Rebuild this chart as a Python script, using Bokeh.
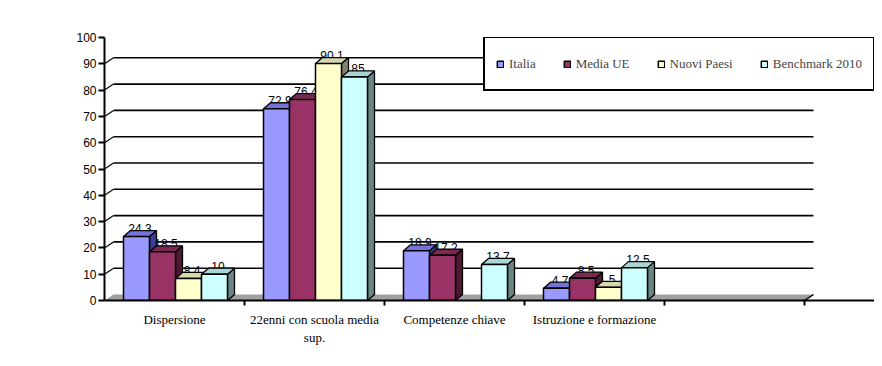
from bokeh.plotting import figure
from bokeh.models import (Range1d, FixedTicker, Legend, LegendItem)
from bokeh.core.properties import value
from bokeh.embed import file_html
from bokeh.resources import INLINE

# ---------------- data ----------------
categories = ["Dispersione", "22enni con scuola media\nsup.", "Competenze chiave",
              "Istruzione e formazione", ""]
series_names = ["Italia", "Media UE", "Nuovi Paesi", "Benchmark 2010"]
italia = [24.3, 72.9, 18.9, 4.7]
media_ue = [18.5, 76.4, 17.2, 8.5]
nuovi_paesi = [8.4, 90.1, None, 5.0]
benchmark = [10, 85, 13.7, 12.5]
y_ticks = [0, 10, 20, 30, 40, 50, 60, 70, 80, 90, 100]

series_values = [italia, media_ue, nuovi_paesi, benchmark]
front_colors = ["#9999FF", "#993366", "#FFFFCC", "#CCFFFF"]
top_colors = ["#7373D9", "#7A2952", "#D6D6AB", "#A8D6D6"]
side_colors = ["#3D3D99", "#4D1A33", "#85856B", "#6B8585"]

# ---------------- geometry (pixel based) ----------------
W, H = 874, 358
LEFT, TOP, BOTTOM = 104, 37, 58
X_END = 5.5
frame_w = W - LEFT
frame_h = H - TOP - BOTTOM
PXX = frame_w / X_END          # px per category
PXY = frame_h / 100.0          # px per unit

bar_w = 26 / PXX
group_off = 19 / PXX
dxb, dyb = 7 / PXX, 6 / PXY     # bar depth
dxw, dyw = 9 / PXX, 6 / PXY     # wall depth

n_cat = len(categories)

p = figure(width=W, height=H, output_backend="svg", toolbar_location=None,
           x_range=Range1d(0, X_END), y_range=Range1d(0, 100),
           min_border_left=LEFT, min_border_top=TOP, min_border_bottom=BOTTOM,
           min_border_right=0)
p.outline_line_color = None
p.xgrid.visible = False
p.ygrid.visible = False
p.background_fill_color = "white"
p.border_fill_color = "white"

# floor
p.patch([0, n_cat, n_cat + dxw, dxw], [0, 0, dyw, dyw],
        fill_color="#A0A0A0", line_color=None)
p.segment(x0=[n_cat], y0=[0], x1=[n_cat + dxw], y1=[dyw], line_color="black", line_width=1.5)

# back gridlines and connectors
gv = [t for t in y_ticks if 0 < t < 100]
p.segment(x0=[dxw] * len(gv), y0=[t + dyw for t in gv], x1=[n_cat + dxw] * len(gv),
          y1=[t + dyw for t in gv], line_color="black", line_width=1.6)
p.segment(x0=[0] * len(gv), y0=gv, x1=[dxw] * len(gv), y1=[t + dyw for t in gv],
          line_color="black", line_width=1.2)

# data labels (behind the bars)
lx, ly, lt = [], [], []
for j, vals in enumerate(series_values):
    for i, v in enumerate(vals):
        if v is None:
            continue
        x0 = i + group_off + j * bar_w
        lx.append(x0 + bar_w / 2 + dxb / 2)
        ly.append(v + dyb * 0.6)
        lt.append("%g" % v)
p.text(x=lx, y=ly, text=lt, text_align="center", text_baseline="bottom",
       text_font=value("Liberation Sans"), text_font_size="12px", text_color="black")

# bars
legend_items = []
for j, vals in enumerate(series_values):
    fl, fr, ft = [], [], []
    txs, tys, sxs, sys_ = [], [], [], []
    for i, v in enumerate(vals):
        if v is None:
            continue
        x0 = i + group_off + j * bar_w
        x1 = x0 + bar_w
        fl.append(x0); fr.append(x1); ft.append(v)
        txs.append([x0, x1, x1 + dxb, x0 + dxb]); tys.append([v, v, v + dyb, v + dyb])
        sxs.append([x1, x1 + dxb, x1 + dxb, x1]); sys_.append([0, dyb, v + dyb, v])
    p.patches(sxs, sys_, fill_color=side_colors[j], line_color="black", line_width=1.3)
    p.patches(txs, tys, fill_color=top_colors[j], line_color="black", line_width=1.3)
    r = p.quad(left=fl, right=fr, bottom=[0] * len(ft), top=ft,
               fill_color=front_colors[j], line_color="black", line_width=1.5)
    legend_items.append(LegendItem(label=series_names[j], renderers=[r]))

legend = Legend(items=legend_items, orientation="horizontal", location=(379, 209),
                padding=11, spacing=27, margin=0, label_standoff=5,
                glyph_width=8, glyph_height=8, label_height=29,
                label_text_font="Liberation Serif", label_text_font_size="13px",
                border_line_color="black", border_line_width=2, border_line_alpha=1.0,
                background_fill_color="white", background_fill_alpha=1)
p.add_layout(legend)

# axes
p.yaxis.ticker = FixedTicker(ticks=y_ticks)
p.yaxis.axis_line_width = 2
p.yaxis.major_tick_line_width = 2
p.yaxis.major_tick_out = 6
p.yaxis.major_tick_in = 0
p.yaxis.minor_tick_line_color = None
p.yaxis.major_label_standoff = 2
p.yaxis.major_label_text_font = "Liberation Sans"
p.yaxis.major_label_text_font_size = "12px"
p.yaxis.major_label_text_color = "black"

centers = [i + 0.5 for i in range(n_cat)]
p.xaxis.ticker = FixedTicker(ticks=centers, minor_ticks=[i + 1 for i in range(n_cat)])
p.xaxis.major_label_overrides = {c: categories[i] for i, c in enumerate(centers)}
p.xaxis.axis_line_width = 2
p.xaxis.major_tick_out = 0
p.xaxis.major_tick_in = 0
p.xaxis.minor_tick_out = 5
p.xaxis.minor_tick_in = 0
p.xaxis.minor_tick_line_width = 2
p.xaxis.minor_tick_line_color = "black"
p.xaxis.major_label_standoff = 6
p.xaxis.major_label_text_font = "Liberation Serif"
p.xaxis.major_label_text_font_size = "13px"
p.xaxis.major_label_text_color = "black"

open("out.html", "w").write(file_html(p, INLINE))
